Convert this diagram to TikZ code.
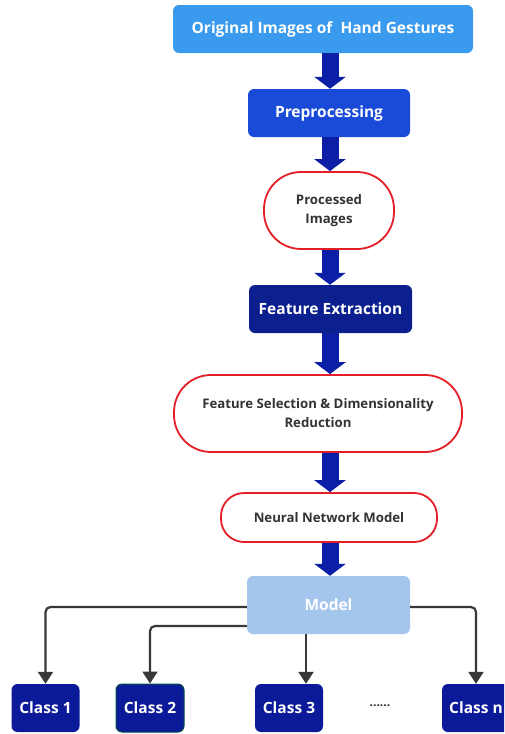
\documentclass[tikz,border=0pt]{standalone}
\usepackage{fontspec}
\setmainfont{Open Sans}
\usetikzlibrary{arrows.meta}

\definecolor{topblue}{HTML}{3A9BEE}
\definecolor{prepblue}{HTML}{1A4AD8}
\definecolor{navy}{HTML}{0B1F8E}
\definecolor{flowblue}{HTML}{0A1FA5}
\definecolor{modelblue}{HTML}{A4C6EC}
\definecolor{classblue}{HTML}{0A1A98}
\definecolor{pillred}{HTML}{E41E26}
\definecolor{textgray}{HTML}{333333}
\definecolor{linkgray}{HTML}{383838}

\tikzset{
  solidbox/.style={rounded corners=6pt, inner sep=0pt, align=center, text=white,
    font=\bfseries\fontsize{15.5}{18}\selectfont},
  pill/.style={draw=pillred, line width=1.8pt, fill=white, inner sep=0pt, align=center,
    text=textgray, font=\bfseries\fontsize{13.2}{19}\selectfont},
  classbox/.style={solidbox, fill=classblue, minimum width=68pt, minimum height=48pt},
  blockarrow/.style={draw=flowblue, line width=17pt, line cap=butt,
    -{Triangle[length=12pt,width=31pt]}},
  link/.style={draw=linkgray, line width=2.2pt, rounded corners=5pt,
    -{Triangle[length=12pt,width=15pt]}}
}

\begin{document}
\begin{tikzpicture}[x=1pt,y=-1pt]
\useasboundingbox (0,0) rectangle (504,734);
\clip (0,0) rectangle (504,734);

% main processing chain
\node[solidbox, fill=topblue, minimum width=300pt, minimum height=48pt] (orig) at (323,29)
  {Original Images of\ \ Hand Gestures};
\node[solidbox, fill=prepblue, minimum width=162pt, minimum height=48pt] (prep) at (329,113)
  {Preprocessing};
\node[pill, rounded corners=37pt, minimum width=130pt, minimum height=77pt] (proc) at (329,210.5)
  {Processed\\Images};
\node[solidbox, fill=navy, minimum width=163pt, minimum height=48pt] (fext) at (330.5,309)
  {Feature Extraction};
\node[pill, rounded corners=37pt, minimum width=288pt, minimum height=77pt] (fsel) at (318,413.5)
  {Feature Selection \& Dimensionality\\Reduction};
\node[pill, rounded corners=23pt, minimum width=216pt, minimum height=49pt] (nn) at (329,517.5)
  {Neural Network Model};
\node[solidbox, fill=modelblue, minimum width=163pt, minimum height=58pt] (model) at (328.5,605)
  {Model};

% output classes
\node[classbox] (c1) at (45.5,708) {Class 1};
\node[classbox, draw=teal!60!black, line width=1pt] (c2) at (150,708) {Class 2};
\node[classbox] (c3) at (289,708) {Class 3};
\node[classbox] (cn) at (476,708) {Class n};
\node[text=textgray, font=\bfseries\fontsize{12}{14}\selectfont] (dots) at (380,706) {......};

% column of the block arrows
\coordinate (ax) at (330,0);
\draw[blockarrow] (orig.south -| ax) -- (prep.north -| ax);
\draw[blockarrow] (prep.south -| ax) -- (proc.north -| ax);
\draw[blockarrow] (proc.south -| ax) -- (fext.north -| ax);
\draw[blockarrow] (fext.south -| ax) -- (fsel.north -| ax);
\draw[blockarrow] (fsel.south -| ax) -- (nn.north -| ax);
\draw[blockarrow] (nn.south -| ax) -- (model.north -| ax);

% links from the model to the classes
\coordinate (c3x) at (306,0);
\draw[link] ([yshift=-2pt]model.west) -| (c1.north);
\draw[link] ([yshift=-21pt]model.west) -| (c2.north);
\draw[link] (model.south -| c3x) -- (c3.north -| c3x);
\draw[link] ([yshift=-2pt]model.east) -| (cn.north);
\end{tikzpicture}
\end{document}
